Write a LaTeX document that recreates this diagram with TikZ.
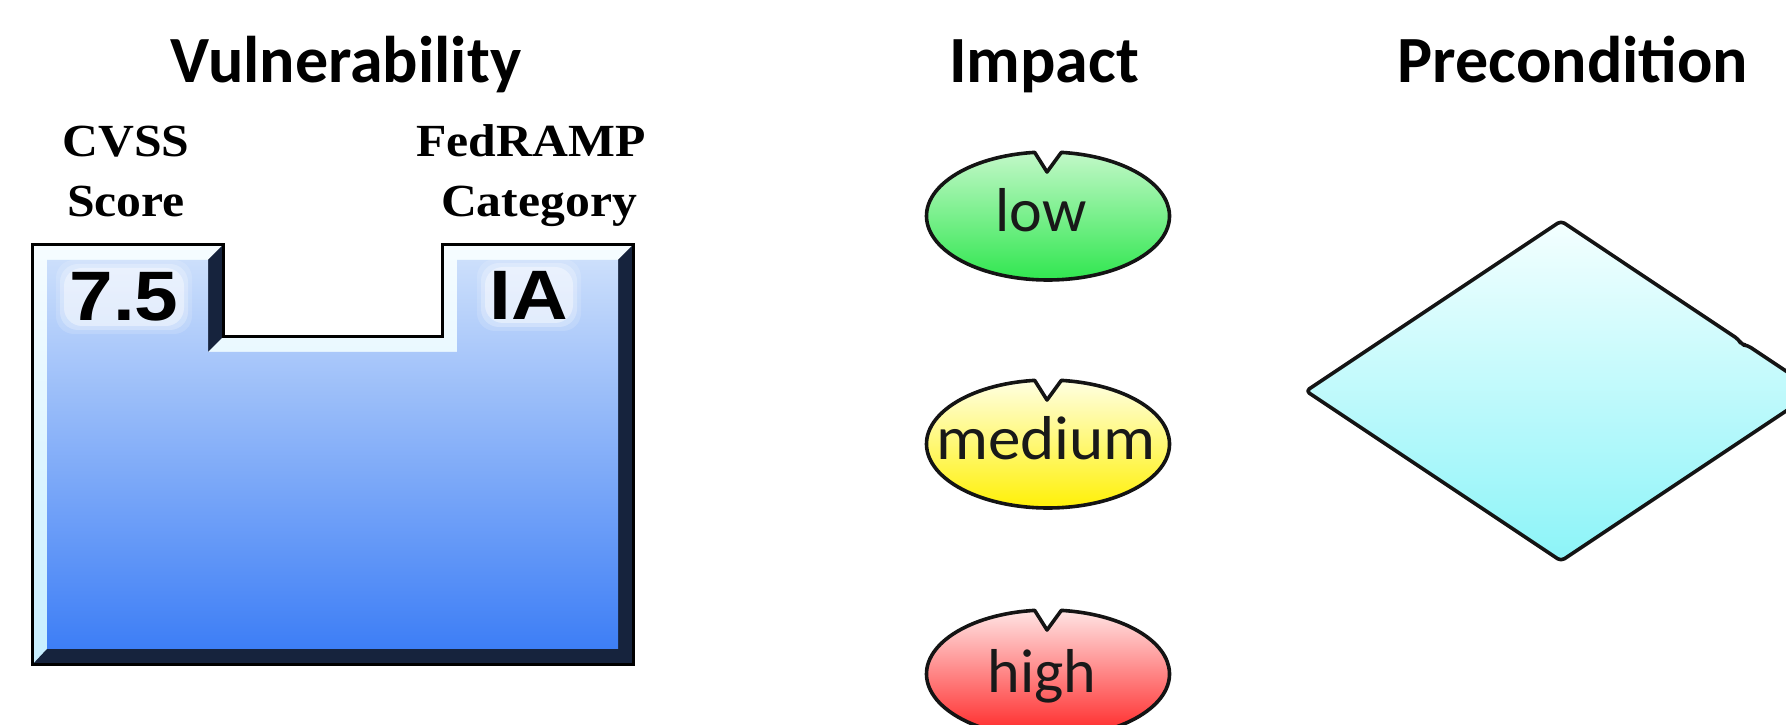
\documentclass[tikz,border=0pt]{standalone}
\usepackage{fontspec}
\setmainfont{Carlito}
\newfontfamily\labelserif{Liberation Serif}[FakeStretch=1.08]
\newfontfamily\valuefont{Liberation Sans}[FakeStretch=1.12]
\newfontfamily\levelwide{Carlito}[FakeStretch=1.05]
\usetikzlibrary{calc}

\definecolor{bevellight}{HTML}{F6FCFF}
\definecolor{bevellightlow}{HTML}{C6EEFF}
\definecolor{beveldark}{HTML}{16233D}
\definecolor{facetop}{HTML}{CCDFFB}
\definecolor{facebottom}{HTML}{3D7EF6}
\definecolor{lowtop}{HTML}{C2F8C8}
\definecolor{lowbottom}{HTML}{2CE64C}
\definecolor{medtop}{HTML}{FFFFE2}
\definecolor{medbottom}{HTML}{FFF000}
\definecolor{hightop}{HTML}{FFE4E4}
\definecolor{highbottom}{HTML}{FF1E1E}
\definecolor{pretop}{HTML}{F4FFFF}
\definecolor{prebottom}{HTML}{8CF4F8}

\begin{document}
\begin{tikzpicture}[x=1pt,y=1pt,
  header/.style={font=\fontsize{66}{66}\selectfont\bfseries, anchor=base, inner sep=0pt},
  sublabel/.style={font=\labelserif\fontsize{46}{46}\selectfont\bfseries, anchor=base, inner sep=0pt},
  valuetext/.style={font=\valuefont\fontsize{70}{70}\selectfont\bfseries, inner sep=0pt},
  leveltext/.style={font=\fontsize{62}{62}\selectfont, anchor=base, inner sep=0pt, text=black!90},
  outline/.style={draw=black!92, line width=3.6pt, line join=round},
  halo/.style={fill=white, rounded corners=18pt},
]
\clip (0,0) rectangle (1786,725);
\fill[white] (0,0) rectangle (1786,725);

% column headings
\node[header] (hvul) at (346,642) {Vulnerability};
\node[header] (himp) at (1044,642) {Impact};
\node[header] (hpre) at (1573,642) {Precondition};

% labels above the two tabs
\node[sublabel] (cvss)     at (126,568) {CVSS};
\node[sublabel] (score)    at (126,508) {Score};
\node[sublabel] (fedramp)  at (531,568) {FedRAMP};
\node[sublabel] (category) at (539,508) {Category};

% vulnerability block: outer outline and inner face corners
\coordinate (A) at (32,480);  \coordinate (B) at (223,480);
\coordinate (C) at (223,388); \coordinate (D) at (442,388);
\coordinate (E) at (442,480); \coordinate (F) at (633,480);
\coordinate (G) at (633,60);  \coordinate (H) at (32,60);
\coordinate (a) at (47,465);  \coordinate (b) at (208,465);
\coordinate (c) at (208,373); \coordinate (d) at (457,373);
\coordinate (e) at (457,465); \coordinate (f) at (618,465);
\coordinate (g) at (618,76);  \coordinate (h) at (47,76);

% light bevel everywhere, then the shadowed sides
\shade[top color=bevellight, bottom color=bevellightlow]
  (A) -- (B) -- (C) -- (D) -- (E) -- (F) -- (G) -- (H) -- cycle;
\fill[beveldark] (F) -- (G) -- (H) -- (h) -- (g) -- (f) -- cycle;
\fill[beveldark] (B) -- (C) -- (c) -- (b) -- cycle;
% front face
\shade[top color=facetop, bottom color=facebottom]
  (a) -- (b) -- (c) -- (d) -- (e) -- (f) -- (g) -- (h) -- cycle;
\draw[black, line width=3pt, line join=miter]
  (A) -- (B) -- (C) -- (D) -- (E) -- (F) -- (G) -- (H) -- cycle;

% soft white glow behind the two values
\foreach \m/\o in {10/0.15, 6/0.25, 2/0.4} {
  \fill[halo, opacity=\o] (124-58-\m,428-27-\m) rectangle (124+58+\m,428+27+\m);
  \fill[halo, opacity=\o] (529-42-\m,430-26-\m) rectangle (529+42+\m,430+26+\m);
}
\node[valuetext] (cvssval) at (124,428) {7.5};
\node[valuetext] (fedval)  at (529,430) {IA};

% impact levels: ellipses with a notch at the top
\path[outline, top color=lowtop, bottom color=lowbottom]
  (1047,553) -- ($(1048,509)+(96.3:121.5 and 64)$)
  arc[start angle=96.3, end angle=443.7, x radius=121.5, y radius=64] -- cycle;
\node[leveltext] (low) at (1041,493) {low};

\path[outline, top color=medtop, bottom color=medbottom]
  (1047,325) -- ($(1048,281)+(96.3:121.5 and 64)$)
  arc[start angle=96.3, end angle=443.7, x radius=121.5, y radius=64] -- cycle;
\node[leveltext, font=\levelwide\fontsize{62}{62}\selectfont] (medium) at (1046,265) {medium};

\path[outline, top color=hightop, bottom color=highbottom]
  (1047,95) -- ($(1048,51)+(96.3:121.5 and 64)$)
  arc[start angle=96.3, end angle=443.7, x radius=121.5, y radius=64] -- cycle;
\node[leveltext] (high) at (1042,32) {high};

% precondition diamond
\path[outline, rounded corners=4pt, top color=pretop, bottom color=prebottom]
  (1561,504) -- (1738.8,385.4) -- (1741.5,380.2) -- (1747.2,379.8)
  -- (1816,334) -- (1561,164) -- (1306,334) -- cycle;
\end{tikzpicture}
\end{document}
